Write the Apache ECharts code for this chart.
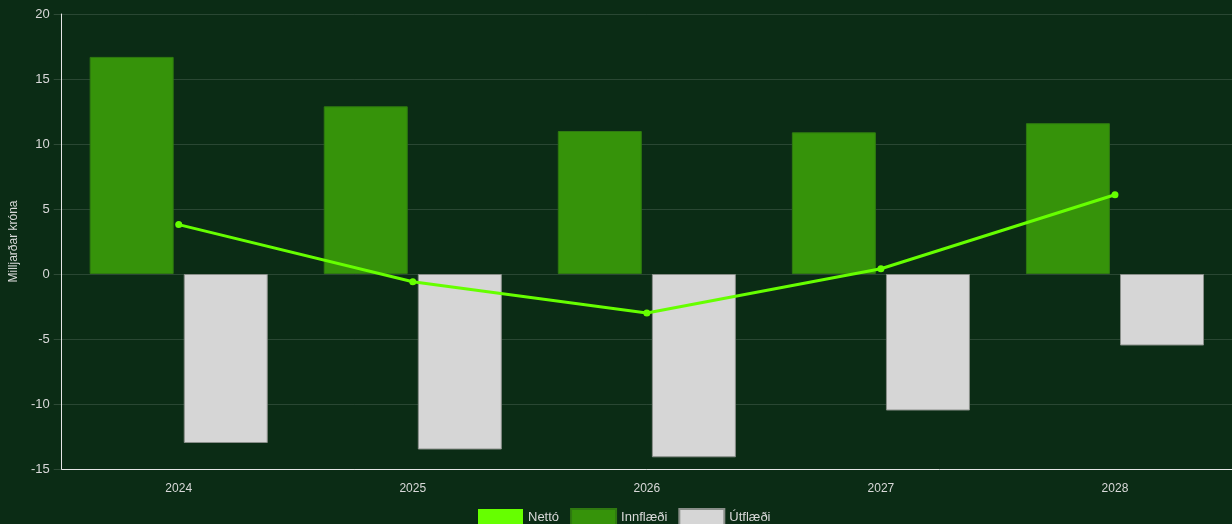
<!DOCTYPE html>
<html>
<head>
<meta charset="utf-8">
<script src="https://cdn.jsdelivr.net/npm/echarts@6/dist/echarts.min.js"></script>
<style>
html,body{margin:0;padding:0;background:#0b2c15;}
#c{width:1232px;height:524px;}
</style>
</head>
<body>
<div id="c"></div>
<script>
const years = ['2024','2025','2026','2027','2028'];
const innflaedi = [16.7, 12.9, 11.0, 10.9, 11.6];
const utflaedi = [-13.0, -13.5, -14.1, -10.5, -5.5];
const netto = [3.8, -0.6, -3.0, 0.4, 6.1];
const yTicks = { min: -15, max: 20, interval: 5 };

const chart = echarts.init(document.getElementById('c'));
const txt = '#d9d9d9';
const font = 'Liberation Sans, Arial, Helvetica, sans-serif';
chart.setOption({
  backgroundColor: '#0b2c15',
  animation: false,
  textStyle: { fontFamily: font },
  grid: { left: 61, top: 14, bottom: 55, width: 1174, containLabel: false },
  legend: {
    top: 508,
    left: 478,
    padding: 0,
    itemWidth: 45,
    itemHeight: 16,
    itemGap: 11,
    icon: 'rect',
    data: ['Nettó', 'Innflæði', 'Útflæði'],
    textStyle: { color: txt, fontSize: 13, fontFamily: font }
  },
  xAxis: {
    type: 'category',
    data: years,
    axisLine: { onZero: false, lineStyle: { color: '#e6e6e6', width: 1 } },
    axisTick: { show: false },
    axisLabel: { color: txt, fontSize: 12, margin: 14, fontFamily: font },
    splitLine: { show: false }
  },
  yAxis: {
    type: 'value',
    min: yTicks.min, max: yTicks.max, interval: yTicks.interval,
    name: 'Milljarðar króna',
    nameLocation: 'middle',
    nameGap: 39,
    nameTextStyle: { color: txt, fontSize: 12, fontFamily: font },
    axisLine: { show: true, lineStyle: { color: '#e6e6e6', width: 1 } },
    axisTick: { show: true, length: 8, lineStyle: { color: 'rgba(255,255,255,0.15)' } },
    axisLabel: { color: txt, fontSize: 13, margin: 12, fontFamily: font },
    splitLine: { show: true, lineStyle: { color: 'rgba(255,255,255,0.13)', width: 1 } }
  },
  series: [
    {
      name: 'Innflæði', type: 'bar', data: innflaedi,
      barWidth: 84, barGap: '12%',
      itemStyle: { color: '#36930a', borderColor: '#2f7a10', borderWidth: 1 }
    },
    {
      name: 'Útflæði', type: 'bar', data: utflaedi,
      barWidth: 84,
      itemStyle: { color: '#d6d6d6', borderColor: '#8a8f8a', borderWidth: 1 }
    },
    {
      name: 'Nettó', type: 'line', data: netto,
      symbol: 'circle', symbolSize: 7,
      lineStyle: { color: '#66ff00', width: 3 },
      itemStyle: { color: '#66ff00' },
      z: 5
    }
  ]
});
</script>
</body>
</html>
